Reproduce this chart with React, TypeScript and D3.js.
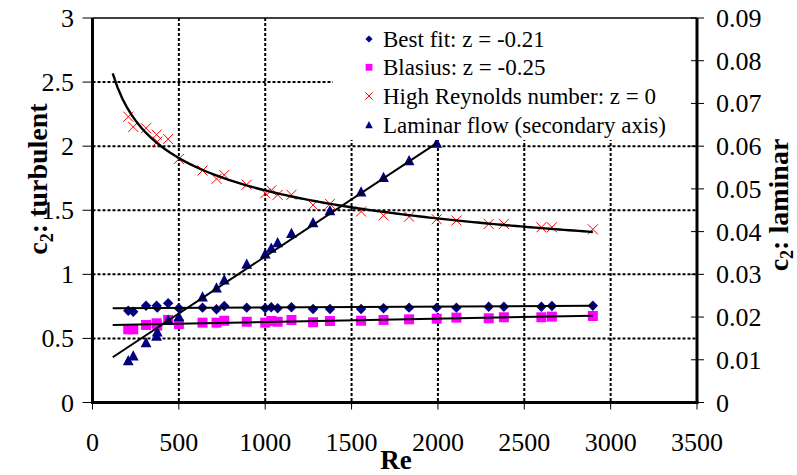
import React from 'react';
import * as d3 from 'd3';

// ---- data ----
const reynolds = [207, 236, 310, 371, 375, 438, 500, 637, 718, 763, 893, 1000, 1035, 1072, 1152, 1277, 1375, 1555, 1685, 1833, 1993, 2107, 2294, 2382, 2599, 2660, 2897];
const c2BestFit = [0.716, 0.708, 0.755, 0.755, 0.74, 0.774, 0.735, 0.74, 0.727, 0.753, 0.74, 0.735, 0.743, 0.735, 0.743, 0.73, 0.73, 0.73, 0.735, 0.74, 0.74, 0.74, 0.747, 0.747, 0.747, 0.753, 0.755];
const c2Blasius = [0.571, 0.571, 0.605, 0.618, 0.6, 0.644, 0.612, 0.623, 0.623, 0.638, 0.63, 0.623, 0.636, 0.63, 0.644, 0.626, 0.636, 0.638, 0.644, 0.649, 0.654, 0.662, 0.657, 0.665, 0.665, 0.67, 0.675];
const c2HighRe = [2.23, 2.15, 2.14, 2.09, 2.035, 2.056, 1.9, 1.81, 1.745, 1.775, 1.7, 1.632, 1.655, 1.62, 1.62, 1.54, 1.55, 1.49, 1.46, 1.45, 1.43, 1.42, 1.393, 1.393, 1.367, 1.367, 1.351];
const reLaminar = [207, 236, 310, 371, 375, 438, 500, 637, 718, 763, 893, 1000, 1035, 1072, 1152, 1277, 1375, 1555, 1685, 1833, 1993];
const c2Laminar = [0.0098, 0.0109, 0.014, 0.0155, 0.0165, 0.0193, 0.0201, 0.0247, 0.0268, 0.0287, 0.0324, 0.0348, 0.0361, 0.0374, 0.0396, 0.0421, 0.0449, 0.0493, 0.0527, 0.0566, 0.0607];
const trendStartRe = 117;
// trend line end points: [Re, c2]
const bestFitTrend = [[117, 0.735], [2897, 0.755]];
const blasiusTrend = [[117, 0.605], [2897, 0.677]];
const laminarTrend = [[117, 0.0106], [1993, 0.0607]];

const xTicks = [0, 500, 1000, 1500, 2000, 2500, 3000, 3500];
const yLeftTicks = [0, 0.5, 1, 1.5, 2, 2.5, 3];
const yRightTicks = [0, 0.01, 0.02, 0.03, 0.04, 0.05, 0.06, 0.07, 0.08, 0.09];
const legendLabels = ['Best fit: z = -0.21', 'Blasius: z = -0.25', 'High Reynolds number: z = 0', 'Laminar flow (secondary axis)'];

const FONT = "'Liberation Serif', 'Times New Roman', 'DejaVu Serif', serif";
const NAVY = '#000080';
const MAGENTA = '#FF00FF';
const RED = '#FF0000';

function powerFit(xs: number[], ys: number[]) {
  const lx = xs.map(Math.log);
  const ly = ys.map(Math.log);
  const n = xs.length;
  const mx = d3.mean(lx)!;
  const my = d3.mean(ly)!;
  let sxy = 0, sxx = 0;
  for (let i = 0; i < n; i++) {
    sxy += (lx[i] - mx) * (ly[i] - my);
    sxx += (lx[i] - mx) * (lx[i] - mx);
  }
  const b = sxy / sxx;
  const a = Math.exp(my - b * mx);
  return (v: number) => a * Math.pow(v, b);
}

const diamond = (r: number) => `M0,${-r}L${r},0L0,${r}L${-r},0Z`;
const square = (r: number) => `M${-r},${-r}H${r}V${r}H${-r}Z`;
const triangle = (r: number) => `M0,${-r * 1.05}L${r},${r * 0.85}L${-r},${r * 0.85}Z`;
const cross = (r: number) => `M${-r},${-r}L${r},${r}M${-r},${r}L${r},${-r}`;

export default function App() {
  const left = 92.5, right = 697, top = 18, bottom = 402.5;
  const x = d3.scaleLinear().domain([0, 3500]).range([left, right]);
  const yL = d3.scaleLinear().domain([0, 3]).range([bottom, top]);
  const yR = d3.scaleLinear().domain([0, 0.09]).range([bottom, top]);

  const reMax = d3.max(reynolds)!;
  const sampleRe = d3.range(0, 101).map((i) => trendStartRe + (reMax - trendStartRe) * i / 100);
  const fitHigh = powerFit(reynolds, c2HighRe);

  const lineL = d3.line<number[]>().x((d) => x(d[0])).y((d) => yL(d[1]));
  const lineR = d3.line<number[]>().x((d) => x(d[0])).y((d) => yR(d[1]));

  const legendX = 333;
  const legendRows = [39, 67.3, 96, 125];

  return (
    <svg width={797} height={475} style={{ position: 'absolute', left: 0, top: 0, background: '#fff', fontFamily: FONT }}>
      <rect x={0} y={0} width={797} height={475} fill="#fff" />
      {/* gridlines */}
      {yLeftTicks.filter((t) => t > 0 && t < 3).map((t) => (
        <line key={'gy' + t} x1={left} x2={right} y1={yL(t)} y2={yL(t)} stroke="#000" strokeWidth={2} strokeDasharray="3 2" />
      ))}
      {xTicks.filter((t) => t > 0 && t < 3500).map((t) => (
        <line key={'gx' + t} x1={x(t)} x2={x(t)} y1={top} y2={bottom} stroke="#000" strokeWidth={2} strokeDasharray="3 2" />
      ))}

      {/* markers */}
      {reynolds.map((r, i) => (
        <path key={'hr' + i} d={cross(5)} transform={`translate(${x(r)},${yL(c2HighRe[i])})`} stroke={RED} strokeWidth={1} fill="none" />
      ))}
      {reynolds.map((r, i) => (
        <path key={'bl' + i} d={square(5)} transform={`translate(${x(r)},${yL(c2Blasius[i])})`} fill={MAGENTA} />
      ))}
      {reynolds.map((r, i) => (
        <path key={'bf' + i} d={diamond(5.2)} transform={`translate(${x(r)},${yL(c2BestFit[i])})`} fill={NAVY} />
      ))}
      {reLaminar.map((r, i) => (
        <path key={'lm' + i} d={triangle(5.4)} transform={`translate(${x(r)},${yR(c2Laminar[i])})`} fill={NAVY} />
      ))}

      {/* trend lines */}
      <path d={lineL(sampleRe.map((r) => [r, fitHigh(r)]))!} fill="none" stroke="#000" strokeWidth={2.4} />
      <path d={lineL(bestFitTrend)!} fill="none" stroke="#000" strokeWidth={2} />
      <path d={lineL(blasiusTrend)!} fill="none" stroke="#000" strokeWidth={2} />
      <path d={lineR(laminarTrend)!} fill="none" stroke="#000" strokeWidth={2} />

      {/* legend */}
      <rect x={legendX} y={top} width={right - legendX} height={122} fill="#fff" />
      <path d={diamond(3.6)} transform={`translate(369,${legendRows[0]})`} fill={NAVY} />
      <path d={square(3.4)} transform={`translate(369,${legendRows[1]})`} fill={MAGENTA} />
      <path d={cross(3.6)} transform={`translate(369,${legendRows[2]})`} stroke={RED} strokeWidth={1} fill="none" />
      <path d={triangle(3.8)} transform={`translate(369,${legendRows[3]})`} fill={NAVY} />
      {legendLabels.map((l, i) => (
        <text key={l} x={383} y={legendRows[i] + 7.5} fontSize={23} fill="#000" style={{ fontFamily: FONT }}>{l}</text>
      ))}

      {/* frame and axes */}
      <line x1={left} x2={right} y1={top} y2={top} stroke="#000" strokeWidth={1.5} />
      <line x1={left} x2={left} y1={top} y2={bottom} stroke="#000" strokeWidth={3} />
      <line x1={right} x2={right} y1={top} y2={bottom} stroke="#000" strokeWidth={3} />
      <line x1={left - 1.5} x2={right + 1.5} y1={bottom} y2={bottom} stroke="#000" strokeWidth={3} />

      {/* x axis */}
      {xTicks.map((t) => (
        <g key={'xt' + t}>
          <line x1={x(t)} x2={x(t)} y1={bottom} y2={bottom + 7} stroke="#000" strokeWidth={1} />
          <text x={x(t)} y={451} fontSize={26} textAnchor="middle" style={{ fontFamily: FONT }}>{t}</text>
        </g>
      ))}
      <text x={396} y={469} fontSize={27} fontWeight="bold" textAnchor="middle" style={{ fontFamily: FONT }}>Re</text>

      {/* left axis */}
      {yLeftTicks.map((t) => (
        <g key={'yl' + t}>
          <line x1={left - 10} x2={left} y1={yL(t)} y2={yL(t)} stroke="#000" strokeWidth={1} />
          <text x={74} y={yL(t) + 9} fontSize={26} textAnchor="end" style={{ fontFamily: FONT }}>{t}</text>
        </g>
      ))}
      <text transform="translate(47,179) rotate(-90)" fontSize={28} fontWeight="bold" textAnchor="middle" style={{ fontFamily: FONT }}>
        c<tspan fontSize={18} dy={6}>2</tspan><tspan dy={-6}>: turbulent</tspan>
      </text>

      {/* right axis */}
      {yRightTicks.map((t) => (
        <g key={'yr' + t}>
          <line x1={right - 6} x2={right + 7} y1={yR(t)} y2={yR(t)} stroke="#000" strokeWidth={1} />
          <text x={716} y={yR(t) + 9} fontSize={26} textAnchor="start" style={{ fontFamily: FONT }}>{t}</text>
        </g>
      ))}
      <text transform="translate(788,205) rotate(-90)" fontSize={28} fontWeight="bold" textAnchor="middle" style={{ fontFamily: FONT }}>
        c<tspan fontSize={18} dy={5}>2</tspan><tspan dy={-5}>: laminar</tspan>
      </text>
    </svg>
  );
}
